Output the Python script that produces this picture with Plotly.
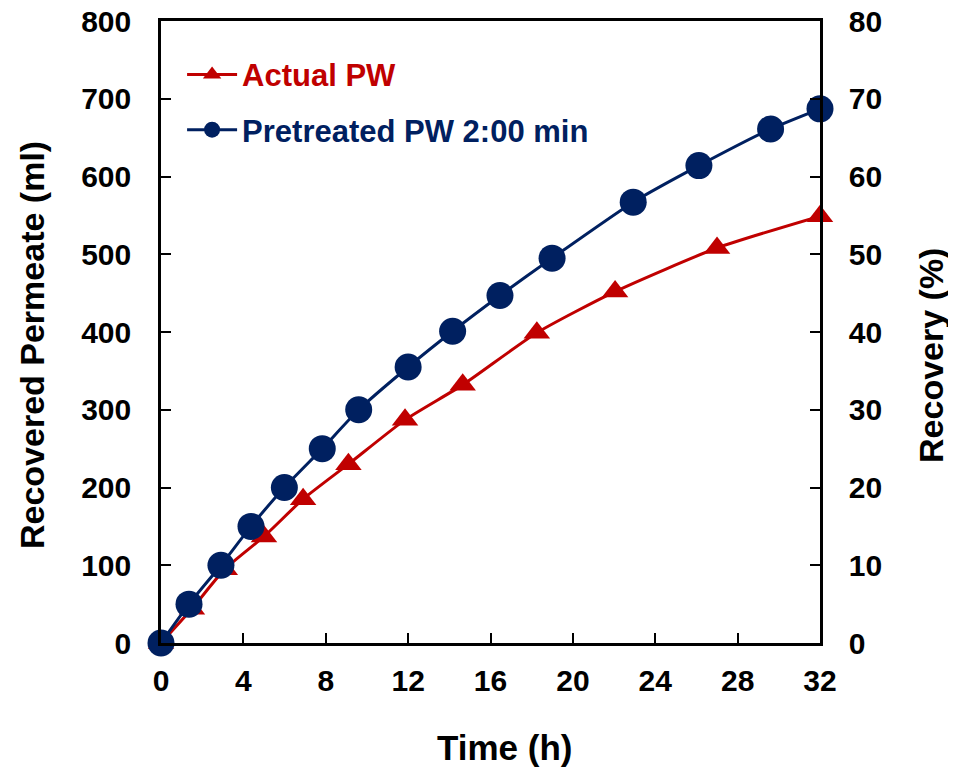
import plotly.graph_objects as go

# ---- data ----
time_actual = [0, 1.5, 3.1, 5.0, 6.9, 9.1, 11.85, 14.65, 18.25, 22.05, 27.0, 32.0]
perm_actual = [0, 44, 95, 137, 185, 230, 287, 332, 399, 452, 508, 549]

time_pretreated = [0, 1.36, 2.91, 4.37, 5.99, 7.83, 9.6, 12.0, 14.16, 16.46, 18.99, 22.93, 26.12, 29.6, 32.0]
perm_pretreated = [0, 50, 100, 150, 200, 250, 300, 355, 401, 447, 495, 567, 614, 661, 687]

x_ticks = [0, 4, 8, 12, 16, 20, 24, 28, 32]
y_ticks = [0, 100, 200, 300, 400, 500, 600, 700, 800]
y2_ticks = [0, 10, 20, 30, 40, 50, 60, 70, 80]

RED = "#C00000"
NAVY = "#002060"
FONT = "Liberation Sans, Arial, sans-serif"

fig = go.Figure()
fig.add_trace(go.Scatter(
    x=time_actual, y=perm_actual, mode="lines+markers",
    name=f"<span style='color:{RED}'><b>Actual PW</b></span>",
    line=dict(color=RED, width=3, shape="spline", smoothing=0.6),
    marker=dict(symbol="triangle-up", size=23, color=RED),
    cliponaxis=False, legendgroup="a",
))
fig.add_trace(go.Scatter(
    x=time_pretreated, y=perm_pretreated, mode="lines+markers",
    name=f"<span style='color:{NAVY}'><b>Pretreated PW 2:00 min</b></span>",
    line=dict(color=NAVY, width=3, shape="spline", smoothing=0.6),
    marker=dict(symbol="circle", size=27, color=NAVY),
    cliponaxis=False, legendgroup="b",
))
# empty trace to carry the secondary (Recovery) axis
fig.add_trace(go.Scatter(x=[None], y=[None], yaxis="y2", showlegend=False,
                         hoverinfo="skip", mode="lines"))

axis_common = dict(
    showgrid=False, zeroline=False, showline=True, linecolor="black", linewidth=2.5,
    ticks="inside", ticklen=10, tickwidth=2, tickcolor="black",
    ticklabeloverflow="allow", automargin=False,
    tickfont=dict(family=FONT, size=30, color="black", weight="bold"),
)

fig.update_layout(
    width=956, height=771,
    margin=dict(l=153, r=144, t=13, b=136, autoexpand=False),
    paper_bgcolor="white", plot_bgcolor="white",
    font=dict(family=FONT, color="black", weight="bold"),
    xaxis=dict(range=[0, 32], tickvals=x_ticks, mirror=True,
               ticklabelstandoff=9, **axis_common),
    yaxis=dict(range=[0, 800], tickvals=y_ticks, ticklabelstandoff=21, **axis_common),
    yaxis2=dict(range=[0, 80], tickvals=y2_ticks, overlaying="y", side="right",
                ticklabelstandoff=20, **axis_common),
    legend=dict(x=0.032, y=0.957, xanchor="left", yanchor="top",
                bgcolor="rgba(0,0,0,0)", font=dict(family=FONT, size=31, weight="bold"),
                traceorder="grouped", tracegroupgap=12, itemwidth=50),
    showlegend=True,
    annotations=[
        dict(text="Time (h)", xref="paper", yref="paper", x=0.5205, y=-0.1688,
             xanchor="center", yanchor="middle", showarrow=False,
             font=dict(family=FONT, size=35, color="black", weight="bold")),
        dict(text="Recovered Permeate (ml)", xref="paper", yref="paper", x=-0.1958, y=0.479,
             xanchor="center", yanchor="middle", textangle=-90, showarrow=False,
             font=dict(family=FONT, size=34, color="black", weight="bold")),
        dict(text="Recovery (%)", xref="paper", yref="paper", x=1.1684, y=0.463,
             xanchor="center", yanchor="middle", textangle=-90, showarrow=False,
             font=dict(family=FONT, size=34, color="black", weight="bold")),
    ],
)

fig.write_html("out.html")
